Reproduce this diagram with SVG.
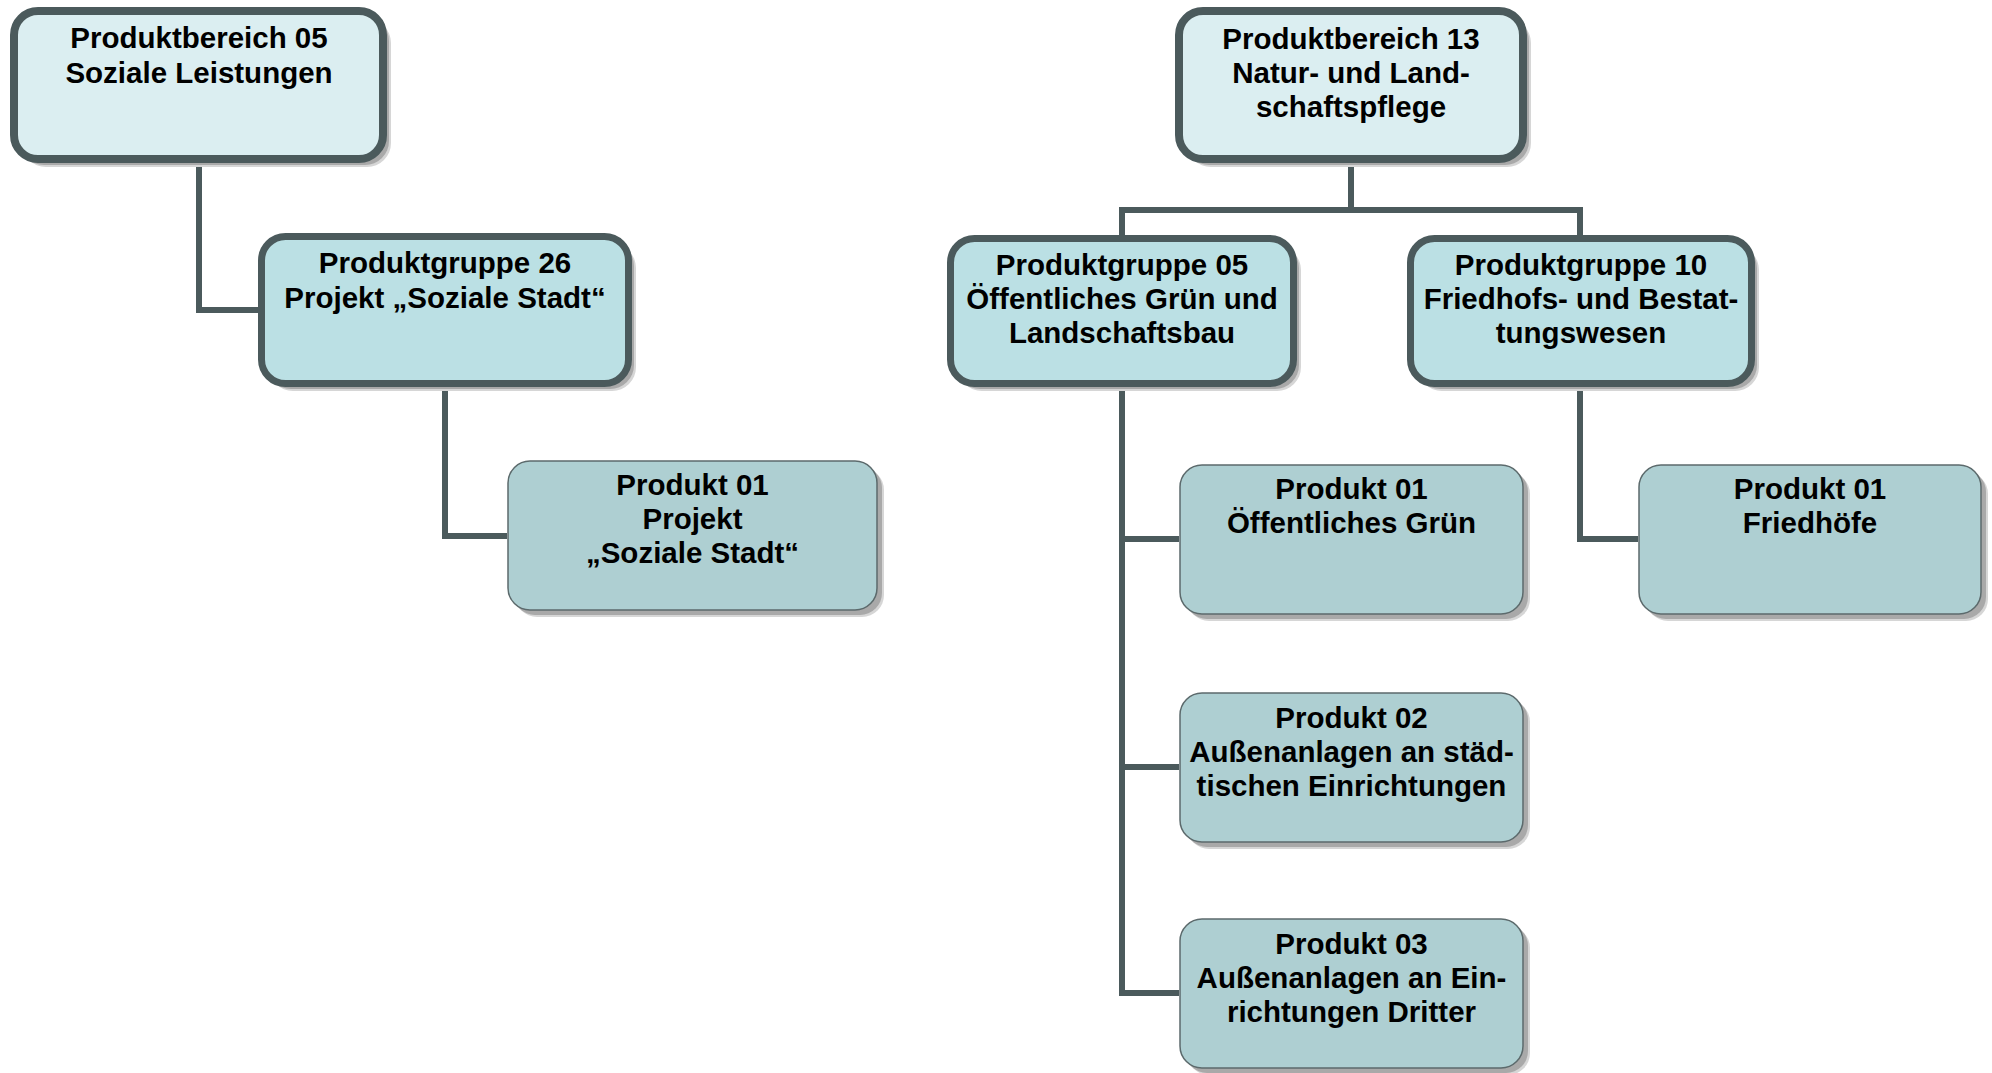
<svg xmlns="http://www.w3.org/2000/svg" width="1992" height="1073" viewBox="0 0 1992 1073">
<style>
.sh1{fill:#d6d6d6}
.sh2{fill:#a9a9a9}
.l1{fill:#dbeef1;stroke:#4b5a5c;stroke-width:8}
.l2{fill:#bbe0e4;stroke:#4b5a5c;stroke-width:7}
.l3{fill:#aecfd2;stroke:#5c6a6c;stroke-width:1.5}
.t{font-family:"Liberation Sans",Arial,sans-serif;font-weight:bold;font-size:29.5px;fill:#000;text-anchor:middle}
.c{fill:none;stroke:#4b5a5c;stroke-width:6;stroke-linejoin:miter}
</style>
<rect width="1992" height="1073" fill="#fff"/>
<g id="connectors">
<path class="c" d="M199,163 V310 H258"/>
<path class="c" d="M445,387 V536 H507"/>
<path class="c" d="M1351,163 V210"/>
<path class="c" d="M1122,236 V210 H1580 V236"/>
<path class="c" d="M1122,387 V993 H1179"/>
<path class="c" d="M1122,539 H1179"/>
<path class="c" d="M1122,767 H1179"/>
<path class="c" d="M1580,387 V539 H1638"/>
</g>
<g id="pb05">
<rect class="sh1" x="22" y="19" width="369" height="148" rx="24"/>
<rect class="sh2" x="20" y="17" width="369" height="148" rx="24"/>
<rect class="l1" x="14" y="11" width="369" height="148" rx="24"/>
<text class="t" x="199" y="48">Produktbereich 05</text>
<text class="t" x="199" y="83">Soziale Leistungen</text>
</g>
<g id="pg26">
<rect class="sh1" x="269" y="244" width="367" height="147" rx="24"/>
<rect class="sh2" x="267" y="242" width="367" height="147" rx="24"/>
<rect class="l2" x="261.5" y="236.5" width="367" height="147" rx="24"/>
<text class="t" x="445" y="273">Produktgruppe 26</text>
<text class="t" x="445" y="308">Projekt „Soziale Stadt“</text>
</g>
<g id="p01a">
<rect class="sh1" x="515" y="468" width="369" height="149" rx="22"/>
<rect class="sh2" x="513" y="466" width="369" height="149" rx="22"/>
<rect class="l3" x="508" y="461" width="369" height="149" rx="22"/>
<text class="t" x="692.5" y="495">Produkt 01</text>
<text class="t" x="692.5" y="529">Projekt</text>
<text class="t" x="692.5" y="563">„Soziale Stadt“</text>
</g>
<g id="pb13">
<rect class="sh1" x="1187" y="19" width="344" height="148" rx="24"/>
<rect class="sh2" x="1185" y="17" width="344" height="148" rx="24"/>
<rect class="l1" x="1179" y="11" width="344" height="148" rx="24"/>
<text class="t" x="1351" y="49">Produktbereich 13</text>
<text class="t" x="1351" y="83">Natur- und Land-</text>
<text class="t" x="1351" y="117">schaftspflege</text>
</g>
<g id="pg05">
<rect class="sh1" x="958" y="246" width="343" height="145" rx="24"/>
<rect class="sh2" x="956" y="244" width="343" height="145" rx="24"/>
<rect class="l2" x="950.5" y="238.5" width="343" height="145" rx="24"/>
<text class="t" x="1122" y="275">Produktgruppe 05</text>
<text class="t" x="1122" y="309">Öffentliches Grün und</text>
<text class="t" x="1122" y="343">Landschaftsbau</text>
</g>
<g id="pg10">
<rect class="sh1" x="1418" y="246" width="341" height="145" rx="24"/>
<rect class="sh2" x="1416" y="244" width="341" height="145" rx="24"/>
<rect class="l2" x="1410.5" y="238.5" width="341" height="145" rx="24"/>
<text class="t" x="1581" y="275">Produktgruppe 10</text>
<text class="t" x="1581" y="309">Friedhofs- und Bestat-</text>
<text class="t" x="1581" y="343">tungswesen</text>
</g>
<g id="p01b">
<rect class="sh1" x="1187" y="472" width="343" height="149" rx="22"/>
<rect class="sh2" x="1185" y="470" width="343" height="149" rx="22"/>
<rect class="l3" x="1180" y="465" width="343" height="149" rx="22"/>
<text class="t" x="1351.5" y="499">Produkt 01</text>
<text class="t" x="1351.5" y="533">Öffentliches Grün</text>
</g>
<g id="p02">
<rect class="sh1" x="1187" y="700" width="343" height="149" rx="22"/>
<rect class="sh2" x="1185" y="698" width="343" height="149" rx="22"/>
<rect class="l3" x="1180" y="693" width="343" height="149" rx="22"/>
<text class="t" x="1351.5" y="728">Produkt 02</text>
<text class="t" x="1351.5" y="762">Außenanlagen an städ-</text>
<text class="t" x="1351.5" y="796">tischen Einrichtungen</text>
</g>
<g id="p03">
<rect class="sh1" x="1187" y="926" width="343" height="149" rx="22"/>
<rect class="sh2" x="1185" y="924" width="343" height="149" rx="22"/>
<rect class="l3" x="1180" y="919" width="343" height="149" rx="22"/>
<text class="t" x="1351.5" y="954">Produkt 03</text>
<text class="t" x="1351.5" y="988">Außenanlagen an Ein-</text>
<text class="t" x="1351.5" y="1022">richtungen Dritter</text>
</g>
<g id="p01c">
<rect class="sh1" x="1646" y="472" width="342" height="149" rx="22"/>
<rect class="sh2" x="1644" y="470" width="342" height="149" rx="22"/>
<rect class="l3" x="1639" y="465" width="342" height="149" rx="22"/>
<text class="t" x="1810" y="499">Produkt 01</text>
<text class="t" x="1810" y="533">Friedhöfe</text>
</g>
</svg>
